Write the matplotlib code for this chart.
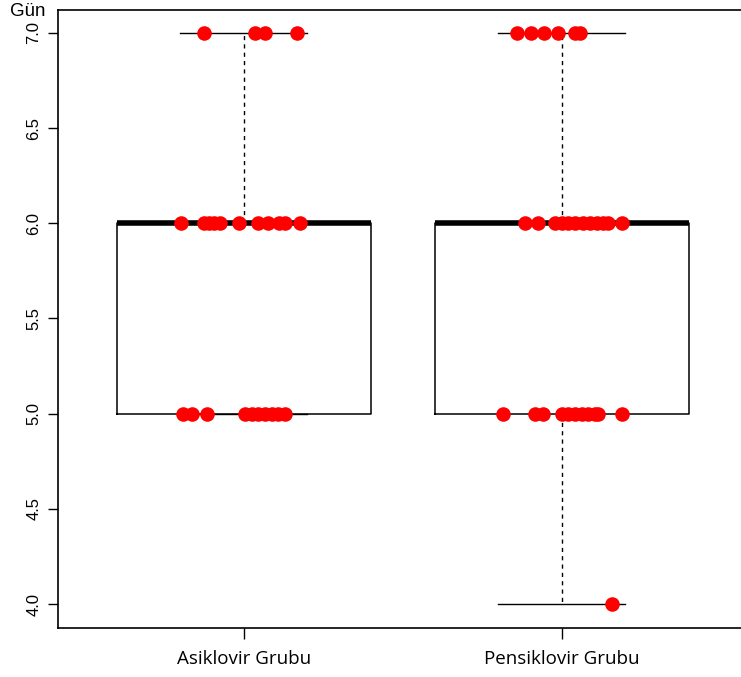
import numpy as np
import matplotlib
matplotlib.use("Agg")
import matplotlib.pyplot as plt

groups = ["Asiklovir Grubu", "Pensiklovir Grubu"]

# observed days per group
asik_days = [5]*10 + [6]*11 + [7]*4
pens_days = [4]*1 + [5]*11 + [6]*12 + [7]*6

# horizontal jitter of each dot (same order as the day lists)
asik_jit = [-0.192, -0.164, -0.116, 0.003, 0.025, 0.044, 0.066, 0.088, 0.107, 0.129,
            -0.198, -0.126, -0.110, -0.094, -0.075, -0.016, 0.044, 0.075, 0.110, 0.129, 0.176,
            -0.126, 0.035, 0.066, 0.167]
pens_jit = [0.157,
            -0.186, -0.085, -0.060, 0.0, 0.019, 0.041, 0.063, 0.082, 0.104, 0.113, 0.189,
            -0.116, -0.075, -0.022, 0.0, 0.019, 0.041, 0.066, 0.088, 0.110, 0.129, 0.145, 0.189,
            -0.142, -0.097, -0.057, -0.013, 0.041, 0.057]

yticks = [4.0, 4.5, 5.0, 5.5, 6.0, 6.5, 7.0]

fig = plt.figure(figsize=(7.41, 6.77), dpi=100)
ax = fig.add_axes([58/741, 49/677, 688/741, 618/677])

ax.boxplot([asik_days, pens_days], positions=[1, 2], widths=0.8, whis=1.5,
           showfliers=False,
           boxprops=dict(color="black", linewidth=1.1),
           medianprops=dict(color="black", linewidth=4, solid_capstyle="butt"),
           whiskerprops=dict(color="black", linewidth=1, linestyle=(0, (3, 3))),
           capprops=dict(color="black", linewidth=1), capwidths=0.4)

ax.scatter(1 + np.array(asik_jit), asik_days, s=110, color="red", zorder=3, linewidths=0)
ax.scatter(2 + np.array(pens_jit), pens_days, s=110, color="red", zorder=3, linewidths=0)

ax.set_xlim(0.415, 2.58)
ax.set_ylim(3.874, 7.12)
ax.set_yticks(yticks)
ax.set_yticklabels(["%.1f" % v for v in yticks], rotation=90, va="center",
                   family="Liberation Sans", fontsize=12)
ax.set_xticks([1, 2])
ax.set_xticklabels(groups, family="Open Sans", fontsize=13.5)
ax.tick_params(axis="y", length=7, width=1, pad=5)
ax.tick_params(axis="x", length=8, width=1, pad=8)
for s in ax.spines.values():
    s.set_linewidth(1.2)

fig.text(10/741, 1 - 12/677, "Gün", family="Liberation Sans", fontsize=13.5, va="center")

fig.savefig("out.png", dpi=100)
